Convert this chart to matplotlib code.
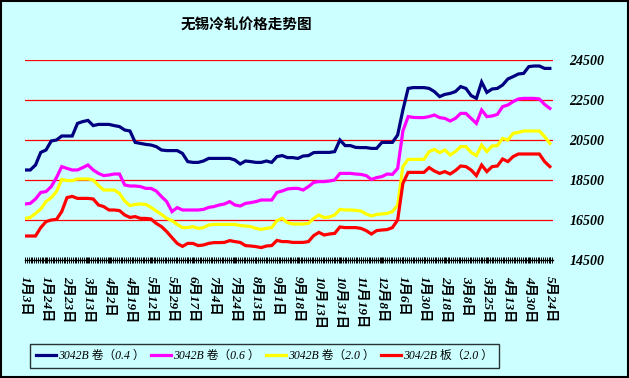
import numpy as np
import matplotlib
matplotlib.use('Agg')
import matplotlib.pyplot as plt
from matplotlib.ticker import MultipleLocator
from matplotlib.patches import Rectangle

# tick labels (every 4th sample point)
date_labels = ['1月3日', '1月24日', '2月23日', '3月13日', '4月2日', '4月19日', '5月12日',
               '5月29日', '6月17日', '7月4日', '7月24日', '8月13日', '9月1日', '9月18日',
               '10月13日', '10月31日', '11月19日', '12月8日', '1月6日', '1月30日',
               '2月18日', '3月8日', '3月25日', '4月13日', '4月30日', '5月24日']

series_names = ['3042B 卷（0.4 ）', '3042B 卷（0.6 ）', '3042B 卷（2.0 ）', '304/2B 板（2.0 ）']

coil_04 = [19000, 19000, 19250, 19880, 20000, 20450, 20500, 20700, 20700, 20700, 21330, 21420, 21480, 21220, 21280, 21280, 21280,
           21220, 21170, 21000, 20950, 20380, 20330, 20280, 20250, 20170, 20000, 19970, 19970, 19970, 19830, 19420, 19380, 19380,
           19450, 19580, 19580, 19580, 19580, 19580, 19500, 19300, 19450, 19420, 19380, 19380, 19450, 19380, 19670, 19720, 19620,
           19620, 19580, 19700, 19720, 19870, 19880, 19880, 19880, 19920, 20500, 20220, 20220, 20130, 20120, 20120, 20080, 20080,
           20380, 20380, 20380, 20750, 22000, 23080, 23120, 23120, 23120, 23080, 22920, 22670, 22780, 22830, 22920, 23170, 23080,
           22720, 22580, 23400, 22880, 23050, 23080, 23250, 23550, 23670, 23800, 23830, 24170, 24200, 24200, 24080, 24080]

coil_06 = [17300, 17330, 17550, 17880, 17920, 18170, 18620, 19170, 19080, 19000, 19000, 19120, 19250, 19000, 18830, 18720, 18750,
           18800, 18800, 18250, 18200, 18200, 18170, 18080, 18080, 17950, 17670, 17420, 16920, 17120, 17000, 17000, 17000, 17000,
           17030, 17130, 17170, 17250, 17300, 17420, 17250, 17200, 17330, 17370, 17420, 17500, 17500, 17500, 17880, 17950, 18050,
           18080, 18080, 18000, 18170, 18380, 18420, 18420, 18450, 18500, 18830, 18830, 18830, 18800, 18780, 18720, 18530, 18620,
           18670, 18800, 18780, 19080, 20950, 21670, 21630, 21620, 21620, 21670, 21750, 21620, 21580, 21450, 21580, 21830, 21830,
           21580, 21330, 22000, 21670, 21700, 21780, 22170, 22250, 22420, 22550, 22580, 22580, 22580, 22550, 22280, 22080]

coil_20 = [16580, 16620, 16830, 17050, 17420, 17620, 17920, 18530, 18470, 18470, 18550, 18550, 18550, 18500, 18220, 18000, 18000,
           18000, 17830, 17450, 17220, 17280, 17300, 17280, 17130, 16950, 16780, 16580, 16470, 16280, 16120, 16120, 16170, 16080,
           16120, 16250, 16280, 16280, 16280, 16280, 16280, 16220, 16200, 16170, 16080, 16030, 16080, 16120, 16470, 16580, 16370,
           16300, 16300, 16300, 16330, 16580, 16750, 16620, 16650, 16750, 17030, 17000, 17000, 16980, 16950, 16800, 16700, 16780,
           16800, 16830, 16920, 17250, 19170, 19530, 19530, 19530, 19530, 19920, 20030, 19870, 20000, 19750, 19920, 20170, 20170,
           19880, 19720, 20250, 19920, 20200, 20220, 20580, 20500, 20830, 20880, 20950, 20950, 20950, 20950, 20670, 20330]

plate_20 = [15700, 15700, 15700, 16120, 16420, 16500, 16530, 16920, 17620, 17680, 17580, 17580, 17580, 17550, 17250, 17170, 17000,
            17000, 16970, 16750, 16630, 16670, 16580, 16580, 16550, 16330, 16170, 15920, 15620, 15330, 15180, 15330, 15330, 15220,
            15250, 15330, 15370, 15370, 15380, 15470, 15420, 15380, 15220, 15200, 15170, 15120, 15200, 15220, 15480, 15420, 15420,
            15380, 15380, 15380, 15420, 15720, 15880, 15750, 15800, 15830, 16150, 16120, 16120, 16120, 16080, 15970, 15800, 15970,
            16000, 16020, 16120, 16500, 18330, 18880, 18880, 18880, 18880, 19120, 18950, 18830, 18920, 18800, 18970, 19200, 19170,
            19000, 18720, 19250, 18920, 19170, 19200, 19550, 19420, 19670, 19800, 19800, 19800, 19800, 19800, 19420, 19170]

y_ticks = [14500, 16500, 18500, 20500, 22500, 24500]
colors = ['#000080', '#FF00FF', '#FFFF00', '#FF0000']
bg = '#CCFFFF'

cjk = ['Noto Sans CJK SC', 'DejaVu Sans']
num_font = ['Liberation Serif', 'Noto Sans CJK SC']

W, H = 629, 378
fig = plt.figure(figsize=(W / 100, H / 100), dpi=100, facecolor=bg)
ax = fig.add_axes([25 / W, 1 - 260 / H, (553 - 25) / W, 200 / H])
ax.set_facecolor(bg)

x = np.arange(len(coil_04))
for ys, c, name in zip([coil_04, coil_06, coil_20, plate_20], colors, series_names):
    ax.plot(x, ys, color=c, lw=2.3, label=name, solid_joinstyle='miter')

ax.set_xlim(0, 100.6)
ax.set_ylim(14500, 24500)

for v in y_ticks[1:]:
    ax.axhline(v, color='#FF0000', lw=0.9, zorder=0)

for s in ['top', 'left', 'right']:
    ax.spines[s].set_visible(False)
ax.spines['bottom'].set_color('black')
ax.spines['bottom'].set_linewidth(1)

ax.yaxis.tick_right()
ax.set_yticks(y_ticks)
ax.set_yticklabels([str(v) for v in y_ticks], family=num_font, fontsize=10,
                   fontweight='bold', fontstyle='italic')
ax.tick_params(axis='y', length=0, pad=12)

ax.set_xticks(np.arange(0, 101, 4))
ax.set_xticklabels(date_labels, rotation=270, family=num_font, fontsize=9.5,
                   fontweight='bold', fontstyle='italic')
ax.xaxis.set_minor_locator(MultipleLocator(0.35))
ax.tick_params(axis='x', which='both', direction='inout', length=5, width=0.7, pad=9)

fig.text(246 / W, 1 - 25 / H, '无锡冷轧价格走势图', family=cjk, fontsize=10.5,
         fontweight='bold', ha='center', va='center')

leg = fig.legend(loc='upper left', bbox_to_anchor=(30 / W, 1 - 344 / H), ncol=4,
                 frameon=True, fancybox=False, handlelength=1.7, handletextpad=0.2,
                 columnspacing=0.5, borderpad=0.5, borderaxespad=0,
                 prop={'family': num_font, 'size': 8.5, 'style': 'italic'})
leg.get_frame().set_edgecolor('black')
leg.get_frame().set_facecolor(bg)
leg.get_frame().set_linewidth(1)

fig.patches.append(Rectangle((0.001, 0.002), 0.997, 0.996, transform=fig.transFigure,
                             fill=False, edgecolor='black', lw=1.5))

fig.savefig('out.png', dpi=100, facecolor=bg)
